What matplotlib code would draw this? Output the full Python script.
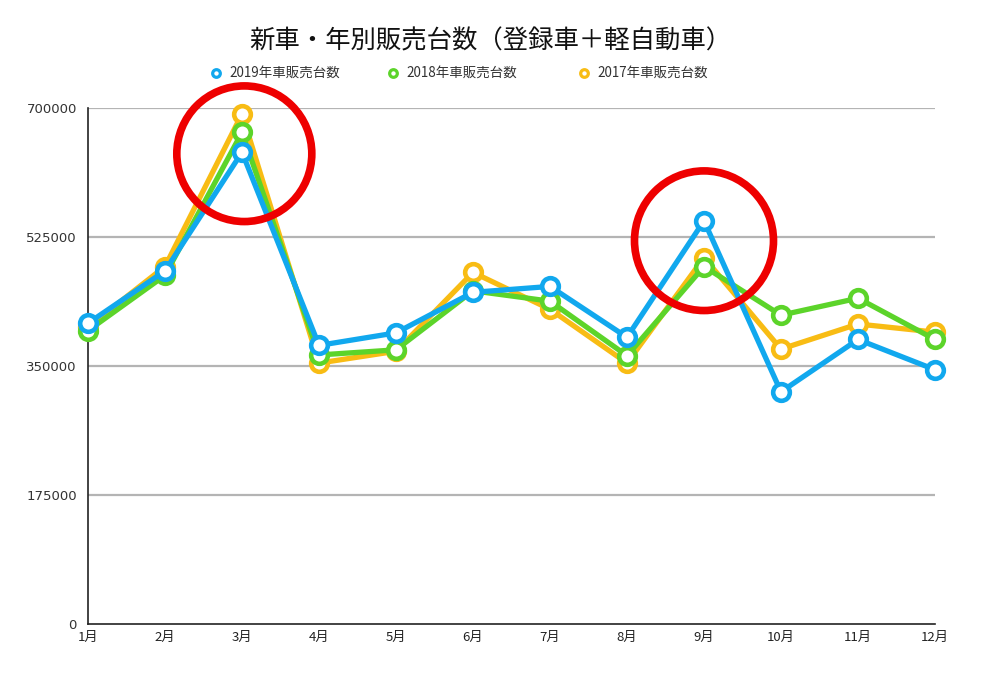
import matplotlib
matplotlib.use("Agg")
import matplotlib.pyplot as plt
from matplotlib.lines import Line2D
from matplotlib.patches import Ellipse

plt.rcParams['font.family'] = ['Noto Sans CJK JP', 'DejaVu Sans']

months = ["1月", "2月", "3月", "4月", "5月", "6月", "7月", "8月", "9月", "10月", "11月", "12月"]
sales_2019 = [408000, 479000, 640000, 378000, 395000, 450000, 458000, 389000, 547000, 315000, 386000, 345000]
sales_2018 = [398000, 473000, 667000, 365000, 372000, 452000, 438000, 364000, 485000, 419000, 442000, 386000]
sales_2017 = [403000, 485000, 692000, 354000, 370000, 477000, 427000, 354000, 497000, 373000, 407000, 396000]
series_names = ["2019年車販売台数", "2018年車販売台数", "2017年車販売台数"]
yticks = [0, 175000, 350000, 525000, 700000]

c2019 = "#11A8EE"
c2018 = "#5CD42A"
c2017 = "#F8BC14"

fig = plt.figure(figsize=(10, 6.82), dpi=100)
ax = fig.add_axes([0.088, 0.085, 0.847, 0.7566])

x = list(range(len(months)))
for vals, col, z in [(sales_2017, c2017, 3), (sales_2018, c2018, 4), (sales_2019, c2019, 5)]:
    ax.plot(x, vals, color=col, lw=3.8, marker='o', markersize=12,
            markerfacecolor='white', markeredgecolor=col, markeredgewidth=3.3,
            zorder=z, clip_on=False)

ax.set_xlim(0, 11)
ax.set_ylim(0, 700000)
ax.set_xticks(x)
ax.set_xticklabels(months, fontsize=9.5, color="#222222")
ax.set_yticks(yticks)
ax.set_yticklabels([str(v) for v in yticks], fontsize=9.5, color="#333333",
                   family='DejaVu Sans')
ax.tick_params(axis='both', length=0)
ax.tick_params(axis='y', pad=8)
ax.tick_params(axis='x', pad=5)
for yv in yticks[1:]:
    ax.axhline(yv, color="#b4b4b4", lw=1.6, zorder=1)
for s in ['top', 'right']:
    ax.spines[s].set_visible(False)
for s in ['left', 'bottom']:
    ax.spines[s].set_color("#222222")
    ax.spines[s].set_linewidth(1.2)

# red highlight circles
ax.add_patch(Ellipse((2.03, 638000), 2 * 67.5 / 77.0, 2 * 68 * 1353, fill=False,
                     edgecolor="#EE0000", lw=5.5, zorder=6, clip_on=False))
ax.add_patch(Ellipse((8.0, 520000), 2 * 69.5 / 77.0, 2 * 70 * 1353, fill=False,
                     edgecolor="#EE0000", lw=5.5, zorder=6, clip_on=False))

fig.text(0.49, 0.939, "新車・年別販売台数（登録車＋軽自動車）", ha='center', va='center',
         fontsize=18.3, color="#111111")

# legend entries placed manually
leg_x = [0.216, 0.393, 0.584]
leg_y = 1 - 73 / 682
for lx, name, c in zip(leg_x, series_names, (c2019, c2018, c2017)):
    fig.add_artist(Line2D([lx], [leg_y], lw=0, marker='o', markersize=5.5,
                          markerfacecolor='white', markeredgecolor=c,
                          markeredgewidth=2.3, transform=fig.transFigure))
    fig.text(lx + 0.013, leg_y, name, ha='left', va='center', fontsize=9.7,
             color="#333333")

fig.savefig("out.png", dpi=100)
